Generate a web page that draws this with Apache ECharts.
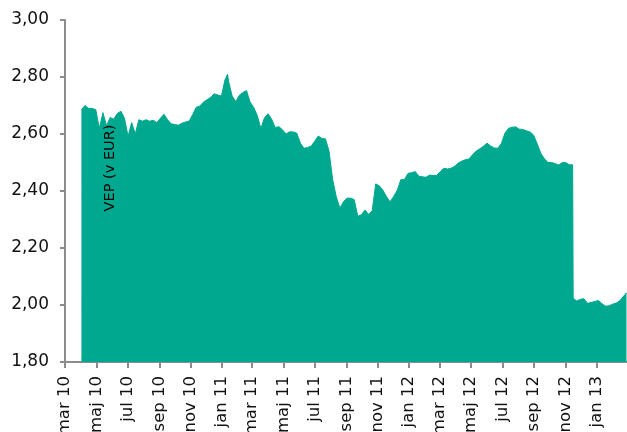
<!DOCTYPE html>
<html>
<head>
<meta charset="utf-8">
<script src="https://cdn.jsdelivr.net/npm/echarts@6/dist/echarts.min.js"></script>
<style>
html,body{margin:0;padding:0;background:#fff;}
#chart{width:627px;height:432px;}
</style>
</head>
<body>
<div id="chart"></div>
<script>
// Dates (weekly closes, plus a few extra days around sharp moves)
var dates = [
'2010-04-02','2010-04-09','2010-04-16','2010-04-23','2010-04-30',
'2010-05-07','2010-05-14','2010-05-21','2010-05-28',
'2010-06-04','2010-06-11','2010-06-18','2010-06-25',
'2010-07-02','2010-07-09','2010-07-16','2010-07-23','2010-07-30',
'2010-08-06','2010-08-13','2010-08-20','2010-08-27',
'2010-09-03','2010-09-10','2010-09-17','2010-09-24',
'2010-10-01','2010-10-08','2010-10-15','2010-10-22','2010-10-29',
'2010-11-05','2010-11-12','2010-11-19','2010-11-26',
'2010-12-03','2010-12-10','2010-12-17','2010-12-24','2010-12-31',
'2011-01-07','2011-01-12','2011-01-14','2011-01-21','2011-01-28',
'2011-02-04','2011-02-11','2011-02-18','2011-02-25',
'2011-03-04','2011-03-11','2011-03-18','2011-03-25',
'2011-04-01','2011-04-08','2011-04-15','2011-04-22','2011-04-29',
'2011-05-06','2011-05-13','2011-05-20','2011-05-27',
'2011-06-03','2011-06-10','2011-06-17','2011-06-24',
'2011-07-01','2011-07-08','2011-07-15','2011-07-22','2011-07-29',
'2011-08-05','2011-08-12','2011-08-19','2011-08-26',
'2011-09-02','2011-09-09','2011-09-16','2011-09-23','2011-09-30',
'2011-10-07','2011-10-14','2011-10-21','2011-10-28',
'2011-11-04','2011-11-11','2011-11-18','2011-11-25',
'2011-12-02','2011-12-09','2011-12-16','2011-12-23','2011-12-30',
'2012-01-06','2012-01-13','2012-01-20','2012-01-27',
'2012-02-03','2012-02-10','2012-02-17','2012-02-24',
'2012-03-02','2012-03-09','2012-03-16','2012-03-23','2012-03-30',
'2012-04-06','2012-04-13','2012-04-20','2012-04-27',
'2012-05-04','2012-05-11','2012-05-18','2012-05-25',
'2012-06-01','2012-06-08','2012-06-15','2012-06-22','2012-06-29',
'2012-07-06','2012-07-13','2012-07-20','2012-07-27',
'2012-08-03','2012-08-10','2012-08-17','2012-08-24','2012-08-31',
'2012-09-07','2012-09-14','2012-09-21','2012-09-28',
'2012-10-05','2012-10-12','2012-10-19','2012-10-26',
'2012-11-02','2012-11-09','2012-11-15','2012-11-16','2012-11-23','2012-11-30',
'2012-12-07','2012-12-14','2012-12-21','2012-12-28',
'2013-01-04','2013-01-11','2013-01-18','2013-01-25',
'2013-02-01','2013-02-08','2013-02-15','2013-02-22','2013-02-28'
];
var vep = [
2.685,2.700,2.690,2.690,2.685,
2.620,2.675,2.628,2.658,
2.652,2.672,2.680,2.655,
2.592,2.640,2.600,2.650,2.645,
2.650,2.645,2.648,2.640,
2.655,2.669,2.650,2.636,
2.633,2.631,2.638,2.642,2.645,
2.668,2.694,2.698,2.712,
2.720,2.729,2.741,2.737,2.733,
2.790,2.810,2.785,2.733,2.714,
2.736,2.746,2.752,2.712,
2.693,2.665,2.619,2.657,
2.671,2.652,2.622,2.626,2.615,
2.600,2.608,2.607,2.603,
2.568,2.550,2.553,2.557,
2.575,2.593,2.584,2.583,2.539,
2.440,2.380,2.340,2.362,
2.375,2.375,2.370,2.311,2.317,
2.333,2.318,2.330,2.425,
2.418,2.403,2.380,2.362,
2.381,2.403,2.440,2.440,2.462,
2.464,2.468,2.452,2.450,
2.448,2.456,2.454,2.455,
2.468,2.480,2.477,2.480,2.487,
2.498,2.505,2.510,2.512,
2.528,2.540,2.548,2.557,
2.568,2.558,2.551,2.550,2.567,
2.603,2.620,2.624,2.625,
2.617,2.616,2.611,2.607,2.596,
2.565,2.532,2.513,2.500,
2.500,2.496,2.491,2.500,
2.499,2.492,2.492,2.024,2.014,2.020,
2.022,2.006,2.009,2.012,
2.016,2.005,1.996,1.997,
2.003,2.007,2.015,2.030,2.043
];
var tickDates = ['2010-03-01','2010-05-01','2010-07-01','2010-09-01','2010-11-01',
  '2011-01-01','2011-03-01','2011-05-01','2011-07-01','2011-09-01','2011-11-01',
  '2012-01-01','2012-03-01','2012-05-01','2012-07-01','2012-09-01','2012-11-01',
  '2013-01-01'];
var tickLabels = ['mar 10','maj 10','jul 10','sep 10','nov 10',
  'jan 11','mar 11','maj 11','jul 11','sep 11','nov 11',
  'jan 12','mar 12','maj 12','jul 12','sep 12','nov 12',
  'jan 13'];
var axisEnd = '2013-03-01';
var yTicks = [1.8, 2.0, 2.2, 2.4, 2.6, 2.8, 3.0];
var axisTitle = 'VEP (v EUR)';

var DAY = 86400000;
function dayNum(s){ var p = s.split('-'); return Math.round(Date.UTC(+p[0], +p[1]-1, +p[2]) / DAY); }
var tickDays = tickDates.map(dayNum);
var seriesData = dates.map(function(d, i){ return [dayNum(d), vep[i]]; });

var chart = echarts.init(document.getElementById('chart'), null, {renderer:'canvas'});
var FONT = 'DejaVu Sans';
chart.setOption({
  animation: false,
  backgroundColor: '#ffffff',
  grid: { left: 65, right: 0, top: 20, bottom: 70, containLabel: false, outerBoundsMode: 'none' },
  xAxis: {
    type: 'value',
    min: tickDays[0],
    max: dayNum(axisEnd),
    axisLine: { lineStyle: { color: '#8c8c8c', width: 2 } },
    axisTick: { show: true, length: 6, lineStyle: { color: '#8c8c8c', width: 2 },
      customValues: tickDays },
    axisLabel: {
      customValues: tickDays,
      showMinLabel: true, showMaxLabel: true,
      rotate: 90, margin: 14, color: '#111', fontFamily: FONT, fontSize: 16.5,
      formatter: function(v){
        var idx = tickDays.indexOf(v);
        return idx >= 0 ? tickLabels[idx] : '';
      }
    },
    splitLine: { show: false }
  },
  yAxis: {
    type: 'value',
    min: yTicks[0], max: yTicks[yTicks.length - 1], interval: 0.2,
    axisLine: { show: true, lineStyle: { color: '#8c8c8c', width: 2 } },
    axisTick: { show: true, length: 5, lineStyle: { color: '#8c8c8c', width: 2 } },
    axisLabel: { margin: 16, color: '#111', fontFamily: FONT, fontSize: 17,
      formatter: function(v){ return v.toFixed(2).replace('.', ','); } },
    splitLine: { show: false }
  },
  graphic: [{
    type: 'text',
    x: 110, y: 168,
    rotation: Math.PI / 2,
    style: { text: axisTitle, fill: '#000', font: '14.5px "DejaVu Sans"', align: 'center', verticalAlign: 'middle' },
    z: 100
  }],
  series: [{
    type: 'line',
    data: seriesData,
    showSymbol: false,
    symbol: 'none',
    lineStyle: { color: '#00a88f', width: 1 },
    areaStyle: { color: '#00a88f', opacity: 1, origin: 'start' },
    z: 2
  }]
});
</script>
</body>
</html>
